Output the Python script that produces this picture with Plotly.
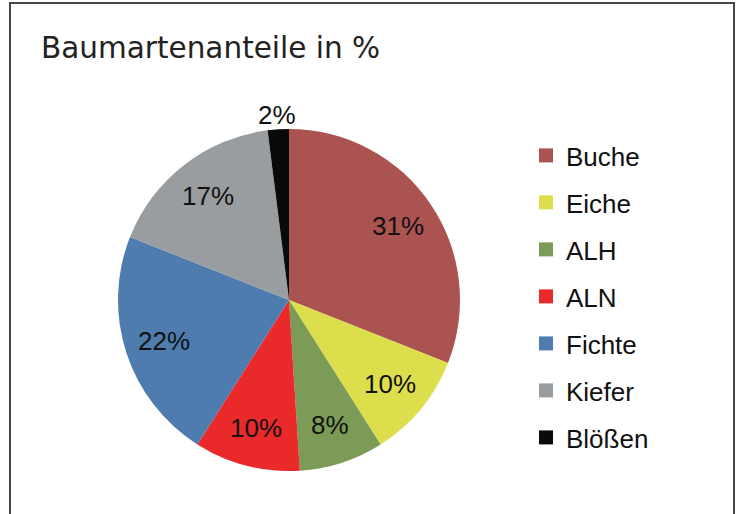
import math
import plotly.graph_objects as go

# Baumartenanteile (Anteil in %)
arten = ['Buche', 'Eiche', 'ALH', 'ALN', 'Fichte', 'Kiefer', 'Blößen']
anteile = [31, 10, 8, 10, 22, 17, 2]
farben = ['#AA5350', '#DCDF4B', '#7B9B56', '#E9292A', '#4E7CAE', '#9A9D9F', '#0A0A0A']

W, H = 743, 514
cx, cy, r = 289, 300, 171   # pie centre / radius in px

fig = go.Figure()

fig.add_trace(go.Pie(
    labels=arten,
    values=anteile,
    sort=False,
    direction='clockwise',
    rotation=0,
    marker=dict(colors=farben, line=dict(width=0)),
    textinfo='none',
    domain=dict(x=[(cx - r) / W, (cx + r) / W], y=[1 - (cy + r) / H, 1 - (cy - r) / H]),
    showlegend=False,
    hoverinfo='label+percent',
))

# percentage labels at the middle angle of each slice
labels = []
total = sum(anteile)
cum = 0
for v in anteile:
    mid = (cum + v / 2) / total * 2 * math.pi
    cum += v
    rr = 0.77 * r if v >= 5 else r + 14
    labels.append(dict(
        text='%d%%' % v,
        x=(cx + rr * math.sin(mid)) / W,
        y=1 - (cy - rr * math.cos(mid)) / H,
        xref='paper', yref='paper',
        xanchor='center', yanchor='middle',
        showarrow=False,
        font=dict(family='Liberation Sans', size=26, color='#111111'),
    ))

# legend entries (square swatches), one group each so the gap can be set
for name, col in zip(arten, farben):
    fig.add_trace(go.Scatter(
        x=[None], y=[None],
        mode='markers',
        name=name,
        legendgroup=name,
        marker=dict(symbol='square', size=14, color=col),
    ))

fig.update_layout(
    width=W,
    height=H,
    margin=dict(l=0, r=0, t=0, b=0),
    paper_bgcolor='white',
    plot_bgcolor='white',
    xaxis=dict(visible=False),
    yaxis=dict(visible=False),
    showlegend=True,
    legend=dict(
        x=526 / W, y=1 - 132 / H,
        xanchor='left', yanchor='top',
        font=dict(family='Liberation Sans', size=26, color='#111111'),
        tracegroupgap=10.2,
        traceorder='grouped',
        bgcolor='rgba(0,0,0,0)',
    ),
    annotations=labels + [dict(
        text='Baumartenanteile in %',
        x=39 / W, y=1 - 48 / H,
        xref='paper', yref='paper',
        xanchor='left', yanchor='middle',
        showarrow=False,
        font=dict(family='DejaVu Sans', size=29.5, color='#222222'),
    )],
    shapes=[dict(
        type='rect', xref='paper', yref='paper',
        x0=10 / W, x1=734 / W, y0=-0.1, y1=1 - 3 / H,
        line=dict(color='#444444', width=2),
    )],
)

fig.write_html("out.html", config={'displayModeBar': False},
               post_script="document.body.style.margin='0px';document.body.style.overflow='hidden';")
